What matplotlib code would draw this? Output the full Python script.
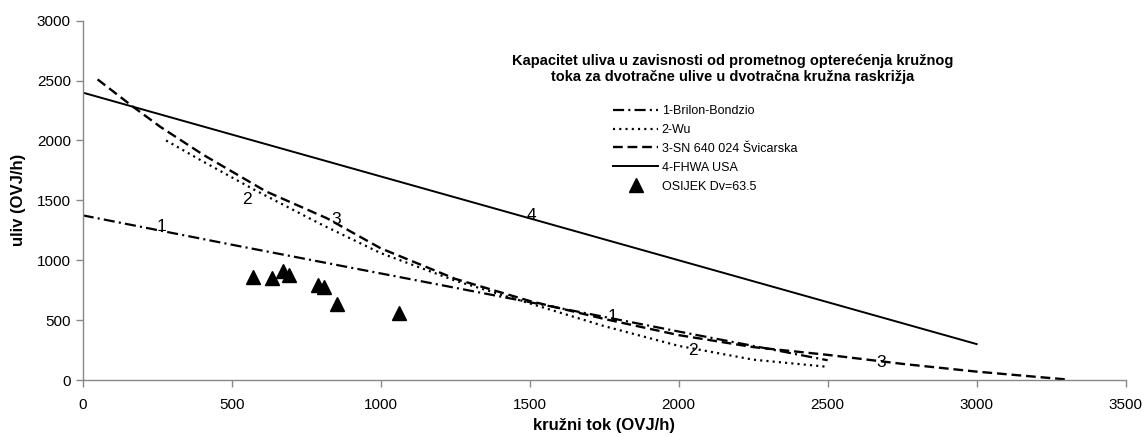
import matplotlib
matplotlib.use("Agg")
import matplotlib.pyplot as plt

plt.rcParams["font.family"] = ["Liberation Sans", "DejaVu Sans"]
plt.rcParams["lines.scale_dashes"] = False

# 1 - Brilon-Bondzio
brilon_x = [0, 500, 1000, 1500, 2000, 2500]
brilon_y = [1375, 1130, 890, 650, 405, 165]

# 2 - Wu
wu_x = [280, 400, 575, 800, 1000, 1250, 1500, 1750, 2000, 2250, 2500]
wu_y = [2000, 1830, 1590, 1300, 1060, 830, 640, 450, 285, 170, 110]

# 3 - SN 640 024 Svicarska
sn_x = [50, 170, 260, 405, 615, 820, 1000, 1250, 1500, 1750, 2000, 2250, 2500, 2750, 3000, 3300]
sn_y = [2510, 2280, 2115, 1880, 1575, 1350, 1100, 845, 660, 510, 375, 275, 210, 135, 70, 5]

# 4 - FHWA USA
fhwa_x = [0, 3000]
fhwa_y = [2400, 300]

# measured points
osijek_x = [572, 635, 671, 693, 790, 810, 853, 1062]
osijek_y = [857, 851, 912, 876, 796, 779, 632, 562]

# curve number labels (x, y, text)
curve_labels = [(265, 1280, "1"), (1779, 530, "1"),
                (550, 1510, "2"), (2048, 250, "2"),
                (852, 1340, "3"), (2681, 150, "3"),
                (1507, 1375, "4")]

fig = plt.figure(figsize=(11.45, 4.37), dpi=100)
ax = fig.add_axes([0.0722, 0.1304, 0.9109, 0.8222])

ax.plot(brilon_x, brilon_y, color="black", lw=1.6, dashes=(8, 3, 1.5, 3), label="1-Brilon-Bondzio")
ax.plot(wu_x, wu_y, color="black", lw=1.6, dashes=(1.5, 3), label="2-Wu")
ax.plot(sn_x, sn_y, color="black", lw=1.7, dashes=(7, 3.5), label="3-SN 640 024 Švicarska")
ax.plot(fhwa_x, fhwa_y, color="black", lw=1.4, label="4-FHWA USA")
ax.plot(osijek_x, osijek_y, ls="none", marker="^", ms=10, color="black", label="OSIJEK Dv=63.5")

for x, y, t in curve_labels:
    ax.text(x, y, t, fontsize=12.5, ha="center", va="center")

ax.set_xlim(0, 3500)
ax.set_ylim(0, 3000)
ax.set_xticks(range(0, 3501, 500))
ax.set_yticks(range(0, 3001, 500))
ax.tick_params(labelsize=11, color="#888888", length=5, width=1)
ax.tick_params(axis="x", pad=8)
for side in ["top", "right"]:
    ax.spines[side].set_visible(False)
for side in ["left", "bottom"]:
    ax.spines[side].set_color("#888888")
    ax.spines[side].set_linewidth(1)

ax.set_xlabel("kružni tok (OVJ/h)", fontsize=12, fontweight="bold", labelpad=4)
ax.set_ylabel("uliv (OVJ/h)", fontsize=12, fontweight="bold", labelpad=8)

fig.text(733 / 1145, 1 - 69 / 437,
         "Kapacitet uliva u zavisnosti od prometnog opterećenja kružnog\n"
         "toka za dvotračne ulive u dvotračna kružna raskrižja",
         ha="center", va="center", fontsize=10.5, fontweight="bold",
         multialignment="center", linespacing=1.2)

fig.legend(loc="upper left", bbox_to_anchor=(613 / 1145, 1 - 105 / 437),
           frameon=False, fontsize=9, handlelength=3.6, handletextpad=0.3,
           labelspacing=0.55, borderpad=0, borderaxespad=0, numpoints=1)

fig.savefig("out.png", dpi=100)
